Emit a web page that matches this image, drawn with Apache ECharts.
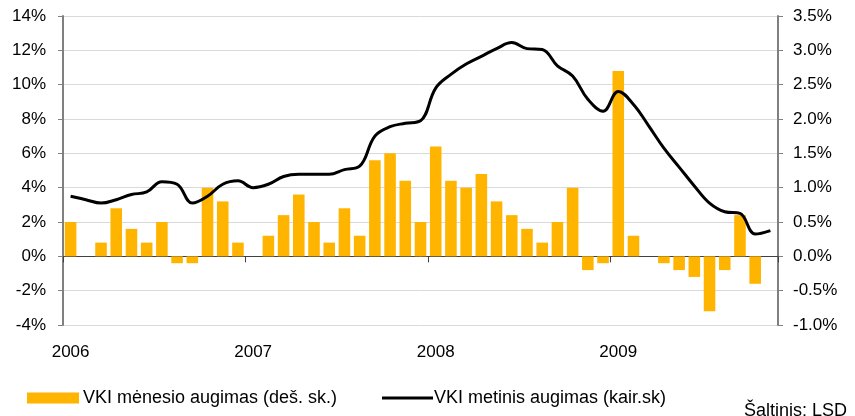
<!DOCTYPE html>
<html>
<head>
<meta charset="utf-8">
<script src="https://cdn.jsdelivr.net/npm/echarts@6/dist/echarts.min.js"></script>
<style>
html, body { margin: 0; padding: 0; background: #fff; }
#chart { width: 855px; height: 416px; }
</style>
</head>
<body>
<div id="chart"></div>
<script>
// laikotarpis: 2006-01 .. 2009-11
const years = ['2006', '2007', '2008', '2009'];
const months = [];
years.forEach(y => {
  for (let m = 1; m <= 12; m++) {
    const mm = (m < 10 ? '0' : '') + m;
    if (y === '2009' && m > 11) break;
    months.push(y + '-' + mm);
  }
});

// VKI mėnesio augimas, % (dešinė skalė)
const monthly = [
  0.5, 0, 0.2, 0.7, 0.4, 0.2, 0.5, -0.1, -0.1, 1.0, 0.8, 0.2,
  0, 0.3, 0.6, 0.9, 0.5, 0.2, 0.7, 0.3, 1.4, 1.5, 1.1, 0.5,
  1.6, 1.1, 1.0, 1.2, 0.8, 0.6, 0.4, 0.2, 0.5, 1.0, -0.2, -0.1,
  2.7, 0.3, 0, -0.1, -0.2, -0.3, -0.8, -0.2, 0.6, -0.4, null
];

// VKI metinis augimas, % (kairė skalė)
const annual = [
  3.5, 3.3, 3.1, 3.3, 3.6, 3.75, 4.35, 4.2, 3.1, 3.5, 4.2, 4.4,
  4.0, 4.2, 4.65, 4.78, 4.78, 4.78, 5.05, 5.25, 7.0, 7.55, 7.75, 7.9,
  9.8, 10.6, 11.2, 11.65, 12.1, 12.45, 12.1, 12.05, 11.1, 10.5, 9.15, 8.45,
  9.6, 8.85, 7.6, 6.3, 5.2, 4.1, 3.1, 2.6, 2.5, 1.3, 1.5
];

const barName = 'VKI mėnesio augimas (deš. sk.)';
const lineName = 'VKI metinis augimas (kair.sk)';
const font = 'Liberation Sans, Arial, sans-serif';

const chart = echarts.init(document.getElementById('chart'));
chart.setOption({
  animation: false,
  textStyle: { fontFamily: font },
  grid: { left: 63, right: 77, top: 16, bottom: 91, outerBoundsMode: 'none', containLabel: false },
  legend: [
    {
      data: [barName], left: 27, top: 389, padding: 0,
      itemWidth: 52, itemHeight: 11, itemGap: 0, icon: 'rect',
      textStyle: { fontSize: 18, color: '#000', fontFamily: font, padding: [0, 0, 0, -1] }
    },
    {
      data: [lineName], left: 382, top: 389, padding: 0,
      itemWidth: 51, itemHeight: 3, icon: 'rect',
      textStyle: { fontSize: 18, color: '#000', fontFamily: font, padding: [0, 0, 0, -4] }
    }
  ],
  graphic: [{
    type: 'text', left: 744, top: 402,
    style: { text: 'Šaltinis: LSD', fontSize: 18, fill: '#000', fontFamily: font }
  }],
  xAxis: {
    type: 'category',
    data: months,
    boundaryGap: true,
    axisLine: { onZero: true, lineStyle: { color: '#404040', width: 1 } },
    axisTick: { show: true, interval: 11, length: 6, lineStyle: { color: '#404040' } },
    axisLabel: {
      interval: 11, margin: 19, fontSize: 17, color: '#000',
      formatter: v => v.slice(0, 4)
    },
    splitLine: { show: false }
  },
  yAxis: [
    {
      type: 'value', min: -4, max: 14, interval: 2,
      axisLine: { show: true, lineStyle: { color: '#808080', width: 2 } },
      axisTick: { show: true, length: 5, lineStyle: { color: '#808080' } },
      axisLabel: { fontSize: 17, color: '#000', margin: 17, formatter: '{value}%' },
      splitLine: { lineStyle: { color: '#d9d9d9', width: 1 } }
    },
    {
      type: 'value', min: -1, max: 3.5, interval: 0.5,
      axisLine: { show: true, lineStyle: { color: '#808080', width: 2 } },
      axisTick: { show: true, length: 5, lineStyle: { color: '#808080' } },
      axisLabel: { fontSize: 17, color: '#000', margin: 15, formatter: v => v.toFixed(1) + '%' },
      splitLine: { show: false }
    }
  ],
  series: [
    {
      name: barName, type: 'bar', yAxisIndex: 1,
      data: monthly, barWidth: '76%',
      itemStyle: { color: '#FFB400' }
    },
    {
      name: lineName, type: 'line', yAxisIndex: 0,
      data: annual, smooth: 0.4, symbol: 'none',
      lineStyle: { color: '#000', width: 3 },
      itemStyle: { color: '#000' }
    }
  ]
});
</script>
</body>
</html>
